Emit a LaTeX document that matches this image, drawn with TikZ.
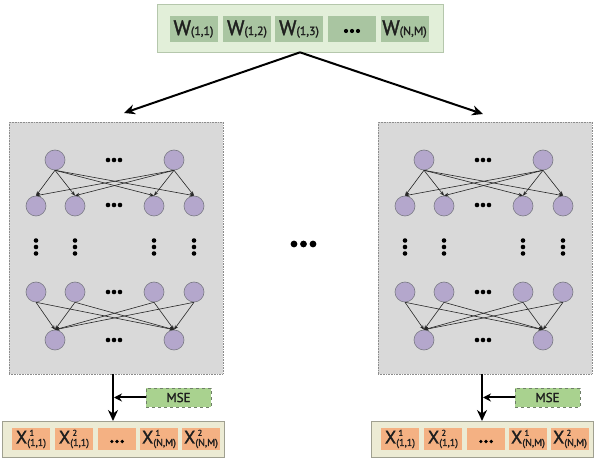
\documentclass[tikz,border=0pt]{standalone}
\usepackage{fontspec}
\setmainfont{PT Sans}[FakeBold=1.6]
\usetikzlibrary{arrows.meta}
\definecolor{topfill}{HTML}{E2EFD9}
\definecolor{topdraw}{HTML}{B5C7AC}
\definecolor{wfill}{HTML}{A9C5A1}
\definecolor{panelfill}{HTML}{D9D9D9}
\definecolor{paneldraw}{HTML}{8C8C8C}
\definecolor{neufill}{HTML}{B4A7CC}
\definecolor{neudraw}{HTML}{7A7A85}
\definecolor{barfill}{HTML}{ECEBD4}
\definecolor{bardraw}{HTML}{A0A090}
\definecolor{xfill}{HTML}{F4B183}
\definecolor{msefill}{HTML}{A9D28F}
\definecolor{msedraw}{HTML}{6F7F68}
\definecolor{txt}{HTML}{1E1E1E}
\newcommand{\wlab}[1]{{\fontsize{21}{21}\selectfont W}{\fontsize{12}{12}\selectfont(#1)}}
\newcommand{\xlab}[2]{{\fontsize{18}{18}\selectfont X}\hspace{0.2pt}\raisebox{-2.5pt}{\shortstack[l]{\fontsize{8.5}{8}\selectfont\hspace{2.2pt}#1\\\fontsize{10}{8}\selectfont#2}}}
\tikzset{
  topbox/.style={rectangle, fill=topfill, draw=topdraw, line width=0.7pt, minimum width=286pt, minimum height=48pt, inner sep=0pt},
  wbox/.style={rectangle, fill=wfill, minimum width=48pt, minimum height=26pt, inner sep=0pt, text=txt},
  panel/.style={rectangle, fill=panelfill, draw=paneldraw, densely dotted, line width=0.6pt, minimum width=214pt, minimum height=252pt, inner sep=0pt},
  neuron/.style={circle, fill=neufill, draw=neudraw, line width=0.6pt, minimum size=20pt, inner sep=0pt},
  edge/.style={draw=black!85, line width=0.6pt, -{Stealth[length=4.5pt,width=3.5pt]}},
  bar/.style={rectangle, fill=barfill, draw=bardraw, line width=0.7pt, minimum width=222pt, minimum height=36pt, inner sep=0pt},
  xbox/.style={rectangle, fill=xfill, minimum width=38pt, minimum height=22pt, inner sep=0pt, text=txt},
  msebox/.style={rectangle, fill=msefill, draw=msedraw, dashed, line width=0.8pt, minimum width=65pt, minimum height=19pt, inner sep=0pt, text=txt, font=\fontsize{13}{13}\selectfont},
  bigarrow/.style={draw=black, line width=2pt, -{Stealth[length=11pt,width=10pt]}},
  dotfill/.style={fill=black}
}
\newcommand{\hdotsat}[3]{\foreach \dx in {-1,0,1} \fill[dotfill] (#1+\dx*6,#2) circle (#3);}
\newcommand{\vdotsat}[2]{\foreach \dy in {-1,0,1} \fill[dotfill] (#1,#2+\dy*6.5) circle (2.3);}
\newcommand{\netpanel}[2]{%
  \begin{scope}[xshift=#2pt]
    \node[panel] (#1panel) at (116,248) {};
    \node[neuron] (#1a1) at (55,160) {};
    \node[neuron] (#1a2) at (174,160) {};
    \node[neuron] (#1b1) at (36,206) {};
    \node[neuron] (#1b2) at (75,206) {};
    \node[neuron] (#1b3) at (154,206) {};
    \node[neuron] (#1b4) at (194,206) {};
    \node[neuron] (#1c1) at (36,292) {};
    \node[neuron] (#1c2) at (75,292) {};
    \node[neuron] (#1c3) at (154,292) {};
    \node[neuron] (#1c4) at (194,292) {};
    \node[neuron] (#1d1) at (55,340) {};
    \node[neuron] (#1d2) at (174,340) {};
    \foreach \s in {a1,a2} \foreach \t in {b1,b2,b3,b4} \draw[edge] (#1\s.south) -- (#1\t.north);
    \foreach \s in {c1,c2,c3,c4} \foreach \t in {d1,d2} \draw[edge] (#1\s.south) -- (#1\t.north);
    \hdotsat{114}{160}{2.3}
    \hdotsat{114}{205}{2.3}
    \hdotsat{114}{292}{2.3}
    \hdotsat{114}{340}{2.3}
    \vdotsat{36}{247}
    \vdotsat{75}{247}
    \vdotsat{154}{247}
    \vdotsat{194}{247}
    \node[bar] (#1bar) at (113,439) {};
    \node[xbox] (#1x1) at (31,439) {\xlab{1}{(1,1)}};
    \node[xbox] (#1x2) at (74,439) {\xlab{2}{(1,1)}};
    \node[xbox] (#1x3) at (117,439) {};
    \node[xbox] (#1x4) at (159,439) {\xlab{1}{(N,M)}};
    \node[xbox] (#1x5) at (201,439) {\xlab{2}{(N,M)}};
    \foreach \dx in {-1,0,1} \fill[dotfill] (117+\dx*5.2,441.5) circle (1.8);
    \coordinate (#1outtop) at (113,374);
    \coordinate (#1outbot) at (113,421);
    \draw[bigarrow] (#1outtop) -- (#1outbot);
    \node[msebox] (#1mse) at (178.5,397.5) {MSE};
    \coordinate (#1join) at (114,397.5);
    \draw[bigarrow, -{Stealth[length=8pt,width=8pt]}] (#1mse.west) -- (#1join);
  \end{scope}}
\begin{document}
\begin{tikzpicture}[x=1pt,y=-1pt]
  \useasboundingbox (0,0) rectangle (595,462);
  \fill[white] (0,0) rectangle (595,462);
  \node[topbox] (top) at (300,28) {};
  \node[wbox] (w1) at (193.5,29) {\wlab{1,1}};
  \node[wbox] (w2) at (247,29) {\wlab{1,2}};
  \node[wbox] (w3) at (299,29) {\wlab{1,3}};
  \node[wbox] (w4) at (352,29) {};
  \node[wbox] (w5) at (404.5,29) {\wlab{N,M}};
  \foreach \dx in {-1,0,1} \fill[dotfill] (352+\dx*6,31) circle (2.1);
  \netpanel{L}{0}
  \netpanel{R}{369}
  \coordinate (Ltip) at (124,113);
  \coordinate (Rtip) at (483,114);
  \draw[bigarrow] (top.south) -- (Ltip);
  \draw[bigarrow] (top.south) -- (Rtip);
  \foreach \dx in {-1,0,1} \fill[dotfill] (303.5+\dx*9.5,244) circle (3.4);
\end{tikzpicture}
\end{document}
